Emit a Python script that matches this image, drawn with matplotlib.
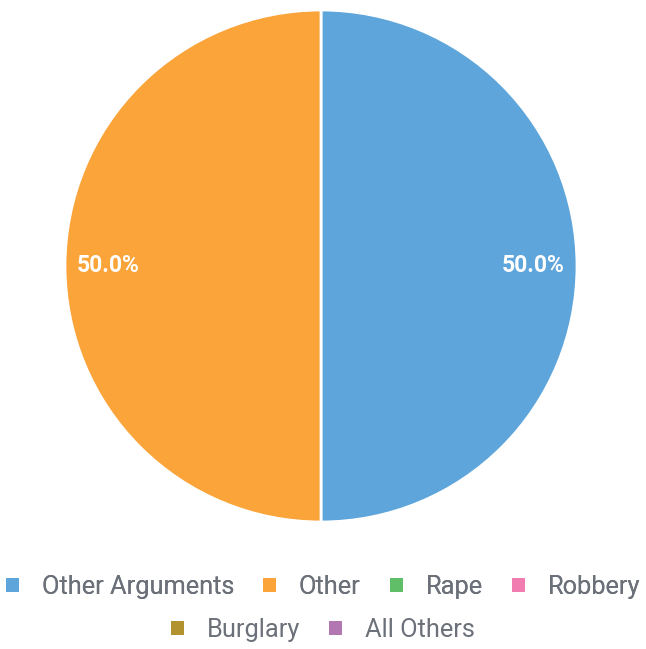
import matplotlib.pyplot as plt
from matplotlib.patches import Patch

plt.rcParams['font.family'] = ['Roboto', 'DejaVu Sans']

# chart data
categories = ['Other Arguments', 'Other', 'Rape', 'Robbery', 'Burglary', 'All Others']
values = [1, 1, 0, 0, 0, 0]
colors = ['#5DA5DA', '#FAA43A', '#60BD68', '#F17CB0', '#B2912F', '#B276B2']


fig = plt.figure(figsize=(6.46, 6.49), dpi=100)
ax = fig.add_axes([65 / 646, 127 / 649, 512 / 646, 512 / 649])

# zero slices take no room in the pie, only in the legend
shown = [(v, c) for v, c in zip(values, colors) if v > 0]
wedges, texts, autotexts = ax.pie(
    [s[0] for s in shown],
    colors=[s[1] for s in shown],
    startangle=90,
    counterclock=False,
    autopct='%.1f%%',
    pctdistance=0.83,
    wedgeprops=dict(edgecolor='white', linewidth=2),
    textprops=dict(color='white', fontsize=16.5, fontweight='semibold'),
)
ax.set_xlim(-1.0, 1.0)
ax.set_ylim(-1.0, 1.0)
ax.set_aspect('equal')

handles = [Patch(facecolor=c, edgecolor='none') for c in colors]
leg_kw = dict(frameon=False, fontsize=18.3, labelcolor='#6B7079',
              handlelength=0.5, handleheight=0.5, handletextpad=0.9,
              columnspacing=1.15, loc='center')
leg1 = fig.legend(handles[:4], categories[:4], ncol=4,
                  bbox_to_anchor=(0.5, 1 - 587 / 649), **leg_kw)
fig.add_artist(leg1)
fig.legend(handles[4:], categories[4:], ncol=2,
           bbox_to_anchor=(0.5, 1 - 630 / 649), **leg_kw)

fig.savefig('out.png', dpi=100, facecolor='white')
